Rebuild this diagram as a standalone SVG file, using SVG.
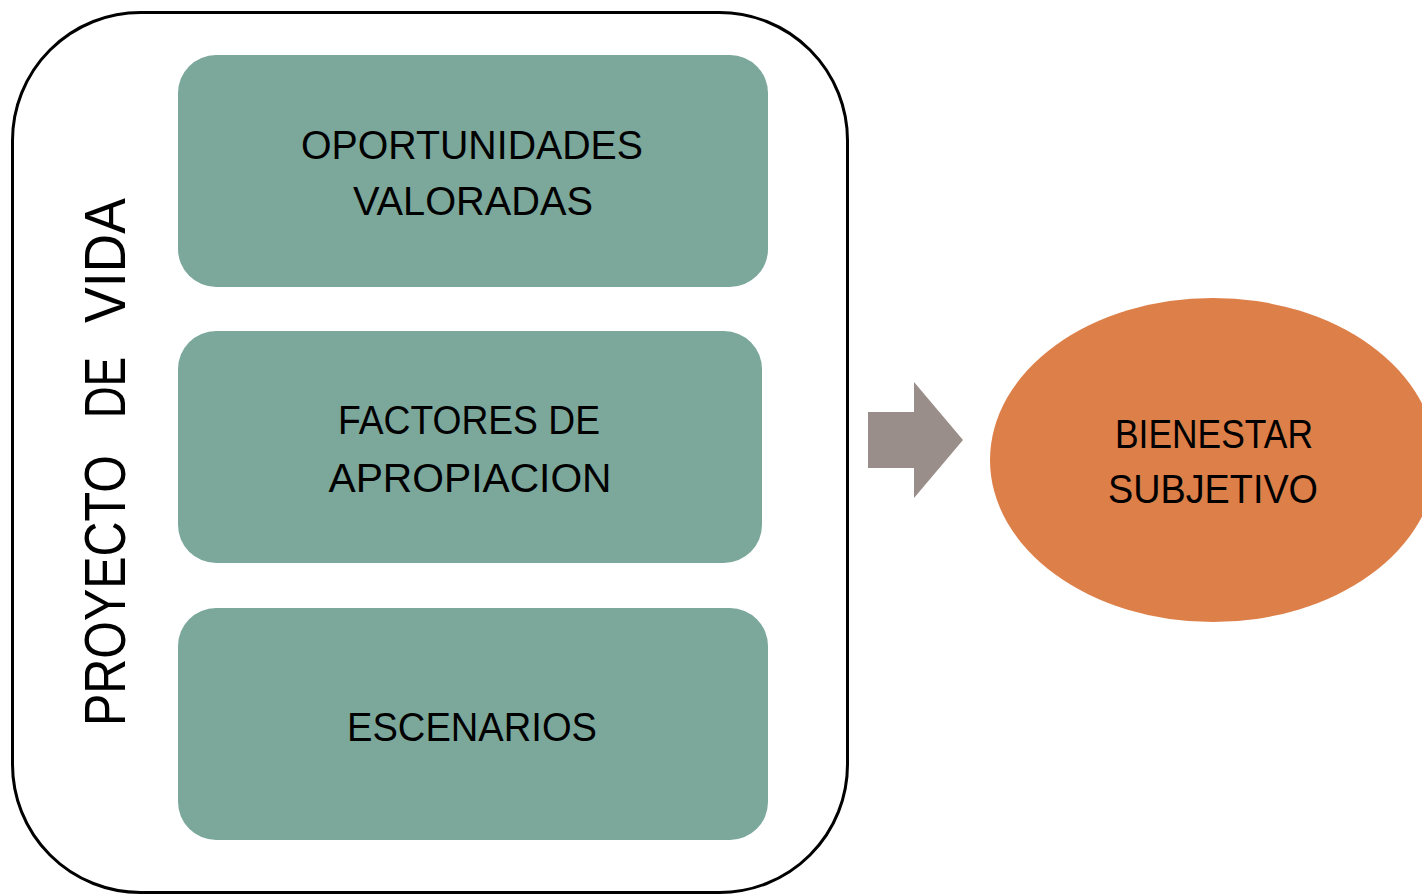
<svg xmlns="http://www.w3.org/2000/svg" width="1422" height="895" viewBox="0 0 1422 895">
<style>
.box{fill:#7ca89c;}
.t{font-family:"Liberation Sans",Arial,sans-serif;font-size:41px;fill:#000;text-anchor:middle;}
.v{font-family:"Liberation Sans",Arial,sans-serif;font-size:57px;fill:#000;}
</style>
<rect width="1422" height="895" fill="#fff"/>
<g id="proyecto">
<rect x="12.5" y="12.5" width="835" height="880" rx="128" ry="128" fill="none" stroke="#000" stroke-width="3"/>
<text class="v" transform="translate(125,726) rotate(-90)" textLength="271" lengthAdjust="spacingAndGlyphs">PROYECTO</text>
<text class="v" transform="translate(125,418) rotate(-90)" textLength="61" lengthAdjust="spacingAndGlyphs">DE</text>
<text class="v" transform="translate(125,323) rotate(-90)" textLength="125" lengthAdjust="spacingAndGlyphs">VIDA</text>
</g>
<g id="oportunidades">
<rect class="box" x="178" y="55" width="590" height="232" rx="38"/>
<text class="t" x="472" y="159" textLength="342" lengthAdjust="spacingAndGlyphs">OPORTUNIDADES</text>
<text class="t" x="473" y="215" textLength="240" lengthAdjust="spacingAndGlyphs">VALORADAS</text>
</g>
<g id="factores">
<rect class="box" x="178" y="331" width="584" height="232" rx="38"/>
<text class="t" x="469" y="434" textLength="262" lengthAdjust="spacingAndGlyphs">FACTORES DE</text>
<text class="t" x="470" y="492" textLength="283" lengthAdjust="spacingAndGlyphs">APROPIACION</text>
</g>
<g id="escenarios">
<rect class="box" x="178" y="608" width="590" height="232" rx="38"/>
<text class="t" x="472" y="741" textLength="250" lengthAdjust="spacingAndGlyphs">ESCENARIOS</text>
</g>
<g id="connectors">
<polygon points="868,412 914,412 914,382 963,440 914,498 914,468 868,468" fill="#9a8e8b"/>
</g>
<g id="bienestar">
<ellipse cx="1213" cy="460" rx="223" ry="162" fill="#dd7f48"/>
<text class="t" x="1214" y="448" textLength="198" lengthAdjust="spacingAndGlyphs">BIENESTAR</text>
<text class="t" x="1213" y="503" textLength="210" lengthAdjust="spacingAndGlyphs">SUBJETIVO</text>
</g>
</svg>
